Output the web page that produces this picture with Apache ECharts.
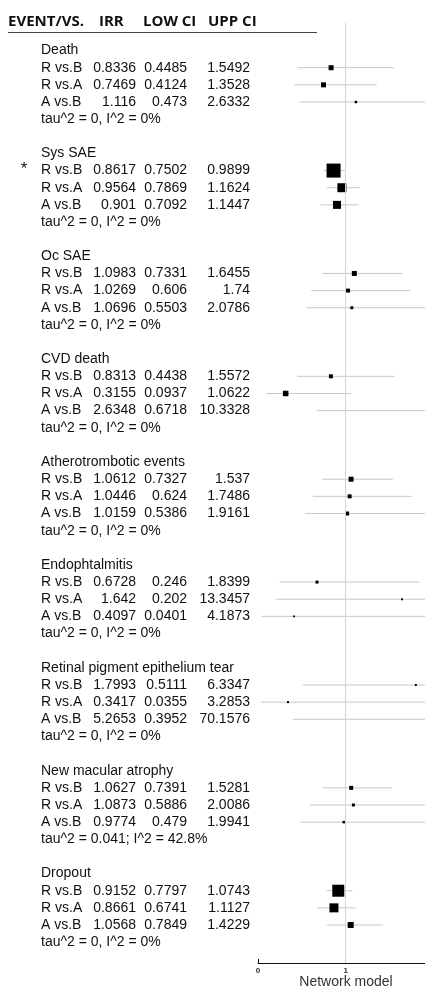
<!DOCTYPE html>
<html><head><meta charset="utf-8">
<script src="https://cdn.jsdelivr.net/npm/echarts@6/dist/echarts.min.js"></script>
<style>html,body{margin:0;padding:0;background:#fff}#c{width:425px;height:1002px}</style>
</head><body><div id="c"></div>
<script>
// ---------- data ----------
const events = ['Death','Sys SAE','Oc SAE','CVD death','Atherotrombotic events','Endophtalmitis','Retinal pigment epithelium tear','New macular atrophy','Dropout'];
const comparisons = ['R vs.B','R vs.A','A vs.B'];
const irr = [
  [0.8336,0.7469,1.116],
  [0.8617,0.9564,0.901],
  [1.0983,1.0269,1.0696],
  [0.8313,0.3155,2.6348],
  [1.0612,1.0446,1.0159],
  [0.6728,1.642,0.4097],
  [1.7993,0.3417,5.2653],
  [1.0627,1.0873,0.9774],
  [0.9152,0.8661,1.0568]
];
const lowCI = [
  [0.4485,0.4124,0.473],
  [0.7502,0.7869,0.7092],
  [0.7331,0.606,0.5503],
  [0.4438,0.0937,0.6718],
  [0.7327,0.624,0.5386],
  [0.246,0.202,0.0401],
  [0.5111,0.0355,0.3952],
  [0.7391,0.5886,0.479],
  [0.7797,0.6741,0.7849]
];
const uppCI = [
  [1.5492,1.3528,2.6332],
  [0.9899,1.1624,1.1447],
  [1.6455,1.74,2.0786],
  [1.5572,1.0622,10.3328],
  [1.537,1.7486,1.9161],
  [1.8399,13.3457,4.1873],
  [6.3347,3.2853,70.1576],
  [1.5281,2.0086,1.9941],
  [1.0743,1.1127,1.4229]
];
const squareSize = [
  [5,5,2.5],
  [14,9,8],
  [5,4,3],
  [4,5.5,2],
  [5,4,4],
  [3,1.8,1.8],
  [2,2,1.5],
  [4,3,2.5],
  [12,9,6]
];
const heterogeneity = [
  'tau^2 = 0, I^2 = 0%','tau^2 = 0, I^2 = 0%','tau^2 = 0, I^2 = 0%',
  'tau^2 = 0, I^2 = 0%','tau^2 = 0, I^2 = 0%','tau^2 = 0, I^2 = 0%',
  'tau^2 = 0, I^2 = 0%','tau^2 = 0.041; I^2 = 42.8%','tau^2 = 0, I^2 = 0%'
];
const flagged = [false,true,false,false,false,false,false,false,false];
const headerLabels = ['EVENT/VS.','IRR','LOW CI','UPP CI'];
const xTicks = [0,1];
const axisTitle = 'Network model';

// ---------- layout ----------
const ROWS = 6;
const Y_MIN = -1.607, Y_MAX = 53.216;
const GRID_TOP = 23, GRID_H = 940;
const PLOT_LEFT = 258, PLOT_W = 167, X_MAX = 1.904;
const COLS = {label:41, irr:136, low:187, upp:250, star:24};
const HEAD_X = [8, 99, 143, 208];
const BODY_FONT = 'Liberation Sans, Arial, sans-serif';
const HEAD_FONT = 'Open Sans, sans-serif';
const TXT = '#111';

const tableRows = [];
const ciRows = [];
events.forEach((ev, g) => {
  const base = g * ROWS;
  tableRows.push({row: base, cells: [ev]});
  comparisons.forEach((c, k) => {
    tableRows.push({row: base + 1 + k, cells: [c, String(irr[g][k]), String(lowCI[g][k]), String(uppCI[g][k])], star: flagged[g] && k === 0});
    ciRows.push([irr[g][k], lowCI[g][k], uppCI[g][k], base + 1 + k, squareSize[g][k]]);
  });
  tableRows.push({row: base + 4, cells: [heterogeneity[g]]});
});

const chart = echarts.init(document.getElementById('c'), null, {renderer: 'canvas'});

function txt(x, y, s, align) {
  return {type: 'text', x: x, y: y, style: {text: s, fill: TXT, fontSize: 14, fontFamily: BODY_FONT, align: align, verticalAlign: 'middle'}};
}

const headerGraphics = headerLabels.map((h, i) => ({
  type: 'text', x: HEAD_X[i], y: 21.5,
  style: {text: h, fontSize: 15, fontWeight: 'bold', fontFamily: HEAD_FONT, fill: '#111', align: 'left', verticalAlign: 'middle'}
}));

chart.setOption({
  animation: false,
  backgroundColor: '#fff',
  grid: [
    {left: PLOT_LEFT, width: PLOT_W, top: GRID_TOP, height: GRID_H},
    {left: 0, width: 258, top: GRID_TOP, height: GRID_H}
  ],
  xAxis: [
    {gridIndex: 0, type: 'value', min: 0, max: X_MAX, interval: 1,
     axisLine: {show: true, onZero: false, lineStyle: {color: '#111', width: 1}},
     axisTick: {show: true, inside: true, length: 4, customValues: xTicks, lineStyle: {color: '#111'}},
     axisLabel: {show: true, customValues: xTicks, fontSize: 8, fontWeight: 'bold', color: '#333', margin: 4, fontFamily: BODY_FONT},
     splitLine: {show: false}},
    {gridIndex: 1, type: 'value', min: 0, max: 258, show: false}
  ],
  yAxis: [
    {gridIndex: 0, type: 'value', inverse: true, min: Y_MIN, max: Y_MAX, show: false},
    {gridIndex: 1, type: 'value', inverse: true, min: Y_MIN, max: Y_MAX, show: false}
  ],
  graphic: headerGraphics.concat([
    {type: 'line', shape: {x1: 8, y1: 32.5, x2: 317, y2: 32.5}, style: {stroke: '#444', lineWidth: 1}},
    {type: 'text', x: 346, y: 982, style: {text: axisTitle, fontSize: 14, fontFamily: BODY_FONT, fill: '#333', align: 'center', verticalAlign: 'middle'}}
  ]),
  series: [
    {type: 'line', xAxisIndex: 0, yAxisIndex: 0, data: [], z: 1, silent: true,
     markLine: {silent: true, symbol: ['none', 'none'], label: {show: false},
       lineStyle: {color: '#d4d4d4', width: 1, type: 'solid'}, data: [{xAxis: 1}]}},
    {type: 'custom', xAxisIndex: 0, yAxisIndex: 0, z: 2, silent: true,
     encode: {x: [0, 1, 2], y: 3},
     data: ciRows,
     renderItem: function (params, api) {
       const cs = params.coordSys;
       const row = api.value(3);
       const lo = api.coord([api.value(1), row]);
       const hi = api.coord([api.value(2), row]);
       const pt = api.coord([api.value(0), row]);
       const s = api.value(4);
       const x0 = Math.max(cs.x, lo[0]);
       const x1 = Math.min(cs.x + cs.width, hi[0]);
       const children = [];
       if (x1 > x0) {
         children.push({type: 'line', shape: {x1: x0, y1: pt[1], x2: x1, y2: pt[1]}, style: {stroke: '#c8c8c8', lineWidth: 1}});
       }
       if (pt[0] >= cs.x && pt[0] <= cs.x + cs.width) {
         children.push({type: 'rect', shape: {x: pt[0] - s / 2, y: pt[1] - s / 2, width: s, height: s}, style: {fill: '#000'}});
       }
       return {type: 'group', children: children};
     }},
    {type: 'custom', xAxisIndex: 1, yAxisIndex: 1, z: 3, silent: true,
     encode: {x: 0, y: 1},
     data: tableRows.map(r => [0, r.row]),
     renderItem: function (params, api) {
       const r = tableRows[params.dataIndex];
       const y = api.coord([0, api.value(1)])[1];
       const children = [];
       children.push(txt(COLS.label, y, r.cells[0], 'left'));
       if (r.cells.length > 1) {
         children.push(txt(COLS.irr, y, r.cells[1], 'right'));
         children.push(txt(COLS.low, y, r.cells[2], 'right'));
         children.push(txt(COLS.upp, y, r.cells[3], 'right'));
       }
       if (r.star) {
         children.push({type: 'text', x: COLS.star, y: y - 1, style: {text: '*', fill: TXT, fontSize: 17, fontFamily: BODY_FONT, align: 'center', verticalAlign: 'middle'}});
       }
       return {type: 'group', children: children};
     }}
  ]
});
</script>
</body></html>
